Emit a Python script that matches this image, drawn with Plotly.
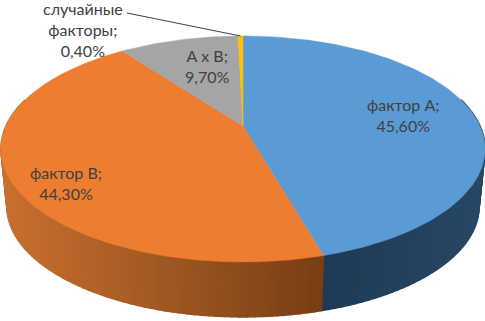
import math
import plotly.graph_objects as go

categories = ["фактор А", "фактор В", "А х В", "случайные факторы"]
values = [45.6, 44.3, 9.7, 0.4]
colors = ["#5B9BD5", "#ED7D31", "#A5A5A5", "#FFC000"]
label_lines = [["фактор А;"], ["фактор В;"], ["А х В;"], ["случайные", "факторы;"]]
label_pos = [(403, 115), (66, 183), (207, 66), (83, 29)]

# projection of the tilted disc (perspective)
CX, R, C, A, B = 243.0, 237.0, 0.2035, -82.67, 126.0
S, D = 0.975, 61.5


def top(theta):
    u, v = math.sin(theta), math.cos(theta)
    w = 1 + C * v
    return CX + R * u / w, (A * v + B) / w


def bottom(theta):
    x, y = top(theta)
    return CX + (x - CX) * S, y * S + D


def lerp(a, b, t):
    return tuple(a[i] + (b[i] - a[i]) * t for i in range(3))


def wall_color(i, x):
    t = min(max((x - 5) / 320, 0), 1)
    if i == 0:
        c = lerp((31, 58, 84), (40, 72, 102), min(max((x - 320) / 165, 0), 1))
    else:
        c = lerp((200, 112, 48), (120, 62, 20), t)
    return "rgb(%d,%d,%d)" % c


fig = go.Figure()

angles = [0.0]
for v in values:
    angles.append(angles[-1] + v / sum(values) * 2 * math.pi)

# side wall
for i in range(len(values)):
    a0, a1 = angles[i], angles[i + 1]
    steps = max(2, int((a1 - a0) / math.radians(1.5)))
    for k in range(steps):
        t0 = a0 + (a1 - a0) * k / steps
        t1 = a0 + (a1 - a0) * (k + 1) / steps
        if math.cos((t0 + t1) / 2) > 0.25:
            continue
        pts = [top(t0), top(t1), bottom(t1), bottom(t0), top(t0)]
        col = wall_color(i, (pts[0][0] + pts[1][0]) / 2)
        fig.add_trace(go.Scatter(x=[p[0] for p in pts], y=[p[1] for p in pts], mode="lines",
                                 fill="toself", fillcolor=col, line=dict(color=col, width=1.5),
                                 hoverinfo="skip", showlegend=False))

# top face
for i, name in enumerate(categories):
    a0, a1 = angles[i], angles[i + 1]
    steps = max(2, int((a1 - a0) / math.radians(1)))
    pts = [top(a0 + (a1 - a0) * k / steps) for k in range(steps + 1)]
    pts = [(CX, B)] + pts + [(CX, B)]
    fig.add_trace(go.Scatter(x=[p[0] for p in pts], y=[p[1] for p in pts], mode="lines",
                             fill="toself", fillcolor=colors[i], line=dict(color=colors[i], width=0.5),
                             name=name, showlegend=False))

# leader line for the smallest slice
mid = top((angles[3] + angles[4]) / 2)
fig.add_trace(go.Scatter(x=[127, mid[0]], y=[13, mid[1]], mode="lines",
                         line=dict(color="#404040", width=1), hoverinfo="skip", showlegend=False))

for lines, v, (x, y) in zip(label_lines, values, label_pos):
    pct = f"{v:.2f}".replace(".", ",") + "%"
    text = "<br>".join(lines + [pct])
    fig.add_annotation(x=x, y=y, text=text, showarrow=False, xanchor="center", yanchor="middle",
                       font=dict(family="Lato, Open Sans, sans-serif", size=16, color="#404040"),
                       align="center")

fig.update_layout(
    width=485, height=321, margin=dict(l=0, r=0, t=0, b=0), showlegend=False,
    paper_bgcolor="white", plot_bgcolor="white",
    xaxis=dict(range=[0, 485], visible=False, fixedrange=True),
    yaxis=dict(range=[321, 0], visible=False, fixedrange=True),
)
fig.write_html("out.html", config={"displayModeBar": False},
               post_script="document.body.style.margin='0';document.documentElement.style.overflow='hidden';")
